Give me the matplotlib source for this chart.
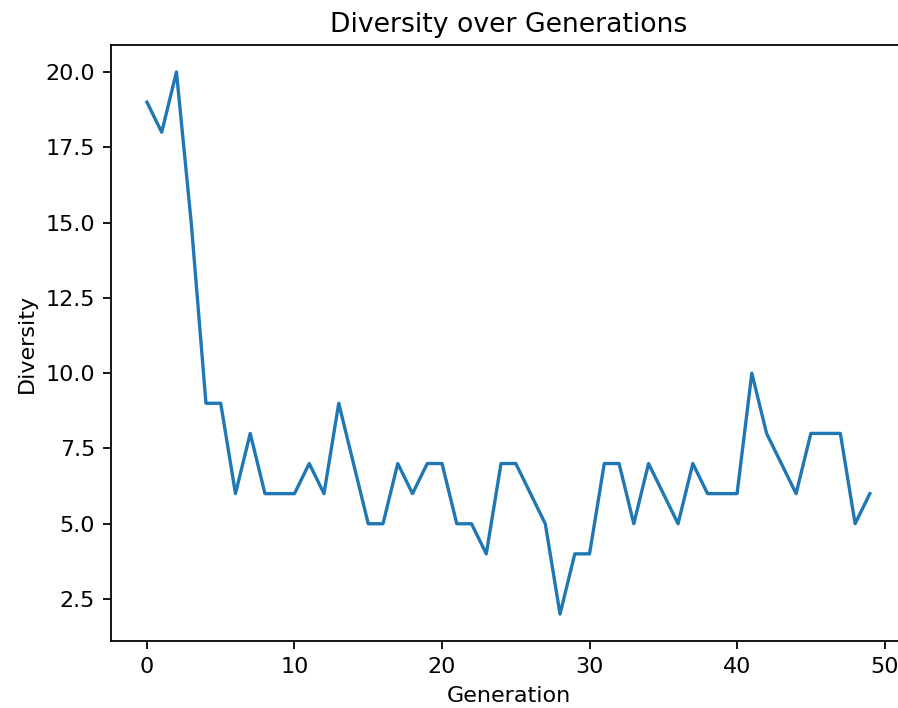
import matplotlib
matplotlib.use("Agg")
import matplotlib.pyplot as plt

generations = list(range(50))
diversity = [19, 18, 20, 15, 9, 9, 6, 8, 6, 6,
             6, 7, 6, 9, 7, 5, 5, 7, 6, 7,
             7, 5, 5, 4, 7, 7, 6, 5, 2, 4,
             4, 7, 7, 5, 7, 6, 5, 7, 6, 6,
             6, 10, 8, 7, 6, 8, 8, 8, 5, 6]

dpi = 160
fig = plt.figure(figsize=(898 / dpi, 708 / dpi), dpi=dpi)
ax = fig.add_axes([110.8 / 898, 1 - 641.2 / 708, (906 - 110.8) / 898, (641.2 - 44.9) / 708])
ax.plot(generations, diversity)
ax.set_title("Diversity over Generations")
ax.set_xlabel("Generation")
ax.set_ylabel("Diversity")
ax.spines['right'].set_visible(False)
fig.savefig("out.png", dpi=dpi)
